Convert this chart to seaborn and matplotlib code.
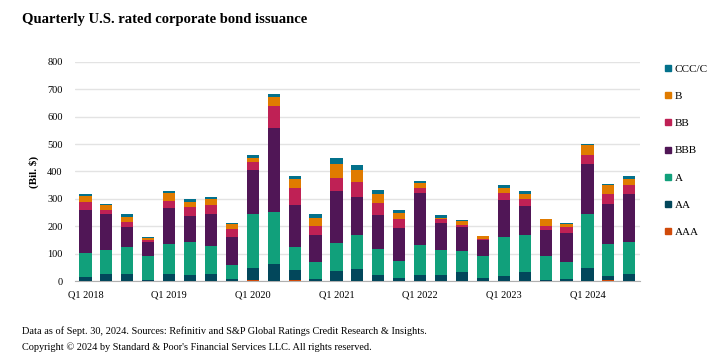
import numpy as np
import pandas as pd
import seaborn as sns
import matplotlib.pyplot as plt
from matplotlib.lines import Line2D

# DATA (Bil. $), Q1 2018 .. Q3 2024
quarters = [f"Q{q} {y}" for y in range(2018, 2025) for q in range(1, 5)][:27]
ratings = ["AAA", "AA", "A", "BBB", "BB", "B", "CCC/C"]
aaa = [0, 0, 0, 0, 0, 0, 0, 0, 5, 0, 5, 0, 0, 0, 0, 0, 0, 0, 0, 0, 0, 0, 0, 0, 0, 4, 0]
aa = [15, 26, 26, 4, 26, 22, 26, 7, 43, 62, 35, 7, 37, 44, 22, 11, 22, 22, 33, 11, 18, 33, 4, 7, 48, 14, 26]
a = [89, 88, 99, 88, 110, 121, 103, 52, 198, 191, 85, 63, 102, 125, 95, 62, 110, 92, 77, 81, 143, 136, 88, 63, 198, 118, 117]
bbb = [157, 129, 74, 51, 129, 96, 117, 103, 158, 305, 154, 99, 188, 136, 125, 122, 191, 99, 88, 58, 136, 106, 95, 106, 183, 147, 173]
bb = [29, 17, 18, 8, 29, 33, 33, 29, 29, 81, 59, 33, 51, 55, 44, 33, 18, 15, 8, 4, 26, 26, 15, 22, 33, 36, 33]
b = [20, 16, 18, 7, 26, 18, 19, 19, 18, 33, 33, 29, 51, 44, 33, 22, 16, 3, 14, 11, 18, 18, 26, 11, 33, 30, 25]
ccc = [6, 7, 8, 4, 7, 8, 7, 3, 11, 11, 11, 15, 19, 18, 15, 11, 10, 11, 1, 1, 8, 8, 0, 4, 4, 7, 8]

colors = {
    "AAA": "#d04a0a",
    "AA": "#02475b",
    "A": "#11a07b",
    "BBB": "#501656",
    "BB": "#bf2155",
    "B": "#e07b00",
    "CCC/C": "#03718b",
}

df = pd.DataFrame({"quarter": quarters, "AAA": aaa, "AA": aa, "A": a,
                   "BBB": bbb, "BB": bb, "B": b, "CCC/C": ccc})
cum = df[ratings].cumsum(axis=1)

sns.set_style("white")
plt.rcParams["font.family"] = ["Liberation Serif", "DejaVu Serif"]
plt.rcParams["text.color"] = "black"
plt.rcParams["xtick.color"] = "black"
plt.rcParams["ytick.color"] = "black"
plt.rcParams["axes.labelcolor"] = "black"

fig = plt.figure(figsize=(7.18, 3.52), dpi=100)
ax = fig.add_axes([0.1045, 0.2017, 0.7865, 0.6223])

# stacked bars: draw cumulative totals from top layer down
for r in ratings[::-1]:
    sns.barplot(x=df["quarter"], y=cum[r], color=colors[r], width=0.58,
                saturation=1, linewidth=0, ax=ax, zorder=3)

ax.set_ylim(0, 800)
ax.set_xlim(-0.5, len(quarters) - 0.5)
ax.set_yticks(range(0, 801, 100))
ax.yaxis.grid(True, color="#e3e3e3", linewidth=1, zorder=0)
ax.set_axisbelow(True)
for s in ["top", "right", "left"]:
    ax.spines[s].set_visible(False)
ax.spines["bottom"].set_color("#b0b0b0")

ax.set_xticks(range(0, len(quarters), 4))
ax.set_xticklabels([quarters[i] for i in range(0, len(quarters), 4)], fontsize=7.5)
ax.set_xticks(np.arange(-0.5, len(quarters), 1), minor=True)
ax.tick_params(axis="x", which="major", length=0, pad=7)
ax.tick_params(axis="x", which="minor", length=3, color="#b0b0b0")
ax.tick_params(axis="y", length=0, labelsize=7.5, pad=9)
ax.set_xlabel("")
ax.set_ylabel("(Bil. $)", fontsize=8, fontweight="bold", labelpad=6)

handles = [Line2D([], [], marker="s", linestyle="", markersize=5,
                  color=colors[r]) for r in ratings[::-1]]
fig.legend(handles, ratings[::-1], loc="upper left", bbox_to_anchor=(0.918, 0.83),
           frameon=False, fontsize=8, handletextpad=0.2, labelspacing=1.56,
           handlelength=0.8, borderaxespad=0)

fig.text(0.03, 0.945, "Quarterly U.S. rated corporate bond issuance",
         fontsize=10.5, fontweight="bold", va="center", ha="left")
fig.text(0.03, 0.058, "Data as of Sept. 30, 2024. Sources: Refinitiv and S&P Global Ratings "
         "Credit Research & Insights.", fontsize=7.4, va="center", ha="left")
fig.text(0.03, 0.013, "Copyright \u00a9 2024 by Standard & Poor's Financial Services LLC. "
         "All rights reserved.", fontsize=7.4, va="center", ha="left")

fig.savefig("out.png", dpi=100)
